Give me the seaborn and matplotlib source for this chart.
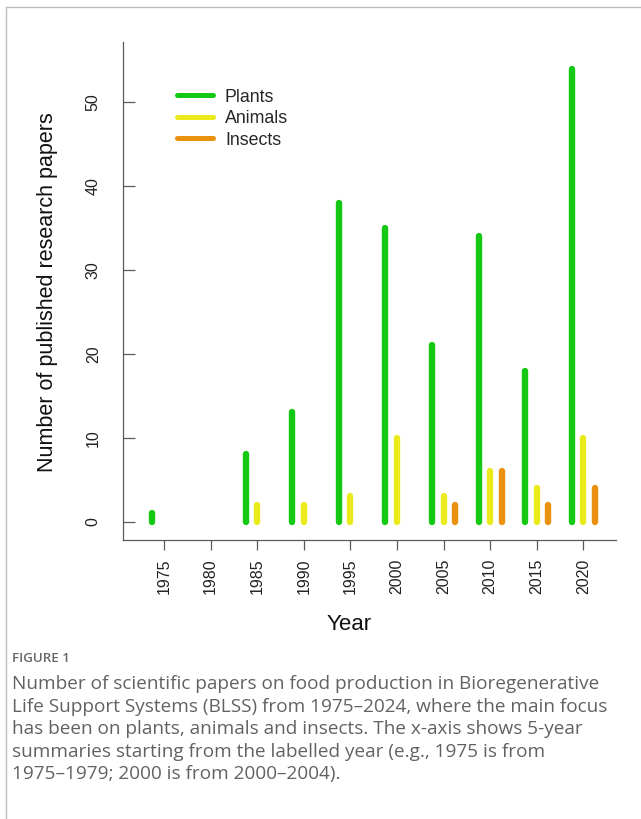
import matplotlib.pyplot as plt
import pandas as pd
import seaborn as sns
from matplotlib.lines import Line2D

# five-year bins, labelled by their first year
years = [1975, 1980, 1985, 1990, 1995, 2000, 2005, 2010, 2015, 2020]
plants = [1, 0, 8, 13, 38, 35, 21, 34, 18, 54]
animals = [0, 0, 2, 2, 3, 10, 3, 6, 4, 10]
insects = [0, 0, 0, 0, 0, 0, 2, 6, 2, 4]

series_names = ["Plants", "Animals", "Insects"]
series_offsets = [-1.25, 0.0, 1.25]
palette = {"Plants": "#14c814", "Animals": "#ebeb1c", "Insects": "#ea920f"}

caption_title = "FIGURE 1"
caption_lines = [
    "Number of scientific papers on food production in Bioregenerative",
    "Life Support Systems (BLSS) from 1975\u20132024, where the main focus",
    "has been on plants, animals and insects. The x-axis shows 5-year",
    "summaries starting from the labelled year (e.g., 1975 is from",
    "1975\u20131979; 2000 is from 2000\u20132004).",
]

df = pd.DataFrame({"year": years, "Plants": plants, "Animals": animals, "Insects": insects})
long = df.melt(id_vars="year", var_name="group", value_name="papers")

sns.set_style("ticks")
plt.rcParams["font.family"] = ["Liberation Sans", "DejaVu Sans"]

W, H = 641, 819
fig = plt.figure(figsize=(W / 100, H / 100), dpi=100)
ax = fig.add_axes([123 / W, 1 - 540 / H, (616 - 123) / W, (540 - 41.7) / H])

for name, offset in zip(series_names, series_offsets):
    sub = long[(long["group"] == name) & (long["papers"] > 0)]
    ax.vlines(sub["year"] + offset, 0, sub["papers"], colors=palette[name],
              linewidth=4.6, capstyle="round", label=name)

ax.set_xlim(1970.6, 2023.5)
ax.set_ylim(-2.2, 57.2)
ax.set_xticks(years)
ax.set_xticklabels([str(y) for y in years])
ax.set_yticks([0, 10, 20, 30, 40, 50])

sns.despine(ax=ax)
for side in ["left", "bottom"]:
    ax.spines[side].set_color("#5a5a5a")
    ax.spines[side].set_linewidth(0.9)

ax.tick_params(axis="x", direction="out", length=7, width=0.9, color="#5a5a5a",
               labelsize=11.5, labelcolor="#222222", labelrotation=90, pad=6.5)
ax.tick_params(axis="y", direction="in", length=8.5, width=0.9, color="#5a5a5a",
               labelsize=11.5, labelcolor="#222222", labelrotation=90, pad=16)
for lab in ax.get_yticklabels():
    lab.set_va("center")

ax.set_xlabel("Year", fontsize=16, color="#111111")
ax.set_ylabel("Number of published research papers", fontsize=15.5, color="#111111")
ax.xaxis.set_label_coords((349 - 123) / 493, -(624 - 540) / 498.3)
ax.xaxis.label.set_va("center")
ax.yaxis.set_label_coords((47 - 123) / 493, (540 - 292) / 498.3)
ax.yaxis.label.set_va("center")

handles = [Line2D([], [], color=palette[n], linewidth=3.6, solid_capstyle="round")
           for n in series_names]
ax.legend(handles, series_names, loc="upper left", bbox_to_anchor=((177 - 123) / 493, 0.9057),
          frameon=False, fontsize=12.75, borderpad=0, borderaxespad=0,
          handlelength=2.03, handletextpad=0.68, labelspacing=0.25)

# page frame and caption
fig.add_artist(Line2D([6 / W, 1], [1 - 7 / H, 1 - 7 / H], color="#bdbdbd", linewidth=1.0))
fig.add_artist(Line2D([6 / W, 6 / W], [0, 1 - 7 / H], color="#bdbdbd", linewidth=1.0))

cap_font = ["Open Sans", "DejaVu Sans"]
fig.text(12 / W, 1 - 658 / H, caption_title, fontsize=9.6, color="#666666",
         family=cap_font, va="center", fontweight="semibold")
for i, line in enumerate(caption_lines):
    fig.text(12 / W, 1 - (684 + 22.6 * i) / H, line, fontsize=13.7, color="#626262",
             family=cap_font, va="center")

fig.savefig("out.png", dpi=100)
